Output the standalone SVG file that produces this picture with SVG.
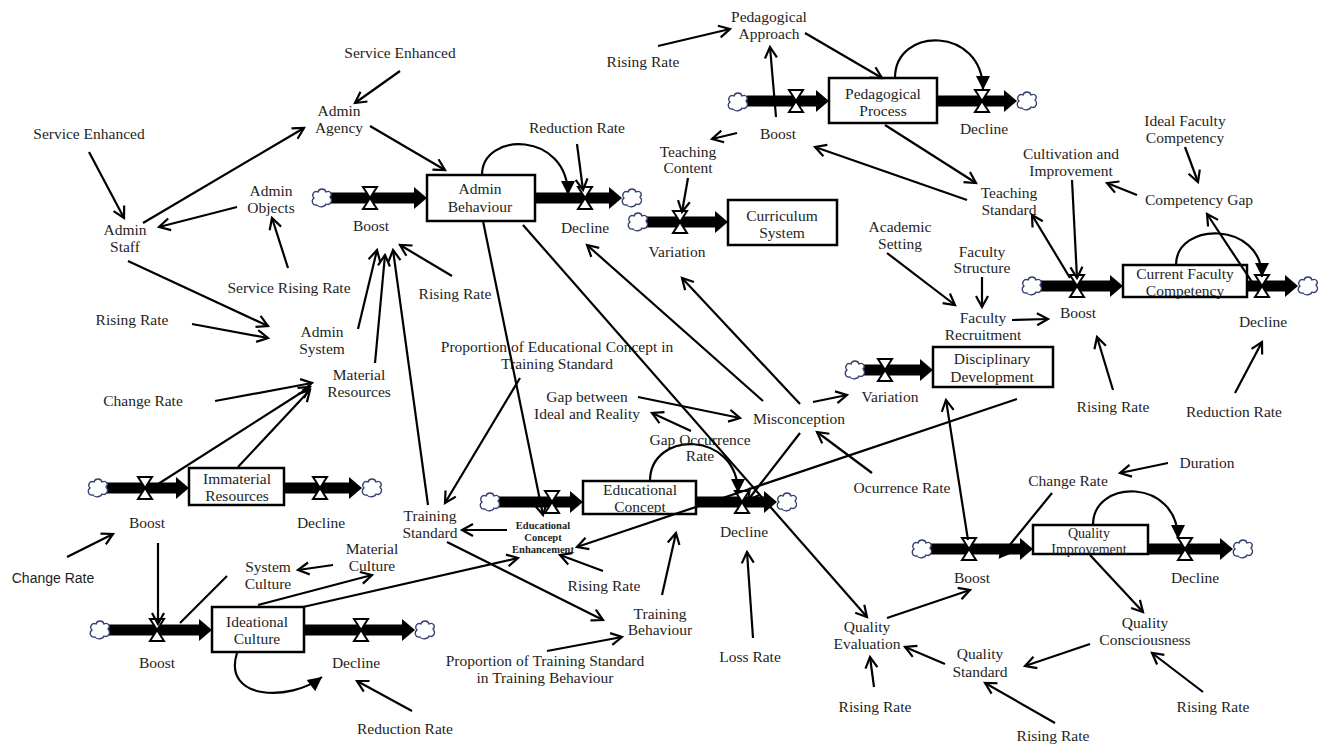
<svg xmlns="http://www.w3.org/2000/svg" xmlns:xlink="http://www.w3.org/1999/xlink" width="1322" height="745" viewBox="0 0 1322 745">
  <style>
    .t{font-family:"Liberation Serif","Times New Roman",serif;font-size:15.5px;fill:#1e1e1e;text-anchor:middle}
    .sm{font-size:14px}
    .bd{font-family:"Liberation Serif","Times New Roman",serif;font-size:10.5px;font-weight:bold;fill:#1e1e1e;text-anchor:middle}
    .sans{font-family:"Liberation Sans",Arial,sans-serif;font-size:14px;fill:#1e1e1e;text-anchor:middle}
    .box{fill:#fff;stroke:#000;stroke-width:2.5}
    .pipe{stroke:#000;stroke-width:11;marker-end:url(#pipeHead)}
    .c{stroke:#000;stroke-width:2.2;fill:none;marker-end:url(#chev)}
    .cn{stroke:#000;stroke-width:2.2;fill:none}
    .loop{stroke:#000;stroke-width:2.2;fill:none;marker-end:url(#solid)}
  </style>
  <defs>
    <marker id="chev" markerUnits="userSpaceOnUse" markerWidth="14" markerHeight="14" refX="12" refY="7" orient="auto" overflow="visible">
      <path d="M1,1 L12,7 L1,13" fill="none" stroke="#000" stroke-width="2.2"/>
    </marker>
    <marker id="solid" markerUnits="userSpaceOnUse" markerWidth="15" markerHeight="14" refX="14" refY="7" orient="auto" overflow="visible">
      <path d="M0,0 L14,7 L0,14 Z" fill="#000"/>
    </marker>
    <marker id="pipeHead" markerUnits="userSpaceOnUse" markerWidth="14" markerHeight="24" refX="0" refY="11" orient="auto" overflow="visible">
      <path d="M0,0 L13,11 L0,22 Z" fill="#000"/>
    </marker>
    <g id="valve">
      <path d="M-7,-11 L7,-11 L0,0 Z M-7,11 L7,11 L0,0 Z" fill="#fff" stroke="#000" stroke-width="2"/>
    </g>
    <g id="cloud">
      <path d="M-5,7 C-10,8 -11,2 -8,0 C-11,-3 -8,-8 -4,-6 C-3,-10 3,-10 4,-6 C8,-8 11,-4 8,-1 C11,2 9,8 4,6 C3,9 -3,10 -5,7 Z" fill="#fff" stroke="#34406e" stroke-width="1.3"/>
    </g>
  </defs>

  <rect width="1322" height="745" fill="#fff"/>

  <!-- stock: Admin Behaviour -->
  <g id="stock-admin-behaviour">
    <line class="pipe" x1="330" y1="198" x2="414" y2="198"/>
    <line class="pipe" x1="535" y1="198" x2="609" y2="198"/>
    <use href="#cloud" x="322" y="198"/>
    <use href="#cloud" x="632" y="198"/>
    <use href="#valve" x="370" y="198"/>
    <use href="#valve" x="585" y="198"/>
    <rect class="box" x="427" y="175" width="108" height="46"/>
    <text class="t" x="480" y="194"><tspan x="480">Admin</tspan><tspan x="480" dy="18">Behaviour</tspan></text>
    <path class="loop" d="M482,175 C482,131 568,131 568,195"/>
  </g>

  <!-- stock: Curriculum System -->
  <g id="stock-curriculum">
    <line class="pipe" x1="646" y1="222" x2="715" y2="222"/>
    <use href="#cloud" x="638" y="222"/>
    <use href="#valve" x="680" y="222"/>
    <rect class="box" x="728" y="200" width="109" height="45"/>
    <text class="t" x="782" y="221"><tspan x="782">Curriculum</tspan><tspan x="782" dy="17">System</tspan></text>
  </g>

  <!-- stock: Pedagogical Process -->
  <g id="stock-pedagogical">
    <line class="pipe" x1="747" y1="101" x2="816" y2="101"/>
    <line class="pipe" x1="937" y1="101" x2="1004" y2="101"/>
    <use href="#cloud" x="738" y="102"/>
    <use href="#cloud" x="1027" y="101"/>
    <use href="#valve" x="796" y="101"/>
    <use href="#valve" x="982" y="101"/>
    <rect class="box" x="829" y="78" width="108" height="45"/>
    <text class="t" x="883" y="99"><tspan x="883">Pedagogical</tspan><tspan x="883" dy="17">Process</tspan></text>
    <path class="loop" d="M895,78 C895,26 983,26 983,90"/>
  </g>

  <!-- stock: Current Faculty Competency -->
  <g id="stock-faculty">
    <line class="pipe" x1="1041" y1="286" x2="1110" y2="286"/>
    <line class="pipe" x1="1247" y1="286" x2="1285" y2="286"/>
    <use href="#cloud" x="1032" y="286"/>
    <use href="#cloud" x="1308" y="286"/>
    <use href="#valve" x="1077" y="286"/>
    <use href="#valve" x="1262" y="286"/>
    <rect class="box" x="1123" y="265" width="124" height="32"/>
    <text class="t" x="1185" y="279"><tspan x="1185">Current Faculty</tspan><tspan x="1185" dy="17">Competency</tspan></text>
    <path class="loop" d="M1176,265 C1176,221 1262,221 1262,277"/>
  </g>

  <!-- stock: Disciplinary Development -->
  <g id="stock-disciplinary">
    <line class="pipe" x1="864" y1="370" x2="920" y2="370"/>
    <use href="#cloud" x="855" y="370"/>
    <use href="#valve" x="885" y="370"/>
    <rect class="box" x="933" y="347" width="120" height="40"/>
    <text class="t" x="992" y="364"><tspan x="992">Disciplinary</tspan><tspan x="992" dy="18">Development</tspan></text>
  </g>

  <!-- stock: Educational Concept -->
  <g id="stock-educational">
    <line class="pipe" x1="499" y1="502" x2="570" y2="502"/>
    <line class="pipe" x1="696" y1="502" x2="764" y2="502"/>
    <use href="#cloud" x="490" y="502"/>
    <use href="#cloud" x="787" y="502"/>
    <use href="#valve" x="552" y="502"/>
    <use href="#valve" x="742" y="502"/>
    <rect class="box" x="583" y="481" width="113" height="33"/>
    <text class="t" x="640" y="495"><tspan x="640">Educational</tspan><tspan x="640" dy="17">Concept</tspan></text>
    <path class="loop" d="M650,481 C650,430 738,430 738,493"/>
  </g>

  <!-- stock: Immaterial Resources -->
  <g id="stock-immaterial">
    <line class="pipe" x1="107" y1="488" x2="176" y2="488"/>
    <line class="pipe" x1="284" y1="488" x2="349" y2="488"/>
    <use href="#cloud" x="98" y="488"/>
    <use href="#cloud" x="372" y="488"/>
    <use href="#valve" x="145" y="488"/>
    <use href="#valve" x="320" y="488"/>
    <rect class="box" x="189" y="468" width="95" height="37"/>
    <text class="t" x="237" y="484"><tspan x="237">Immaterial</tspan><tspan x="237" dy="17">Resources</tspan></text>
  </g>

  <!-- stock: Ideational Culture -->
  <g id="stock-ideational">
    <line class="pipe" x1="109" y1="630" x2="199" y2="630"/>
    <line class="pipe" x1="304" y1="630" x2="402" y2="630"/>
    <use href="#cloud" x="100" y="630"/>
    <use href="#cloud" x="425" y="630"/>
    <use href="#valve" x="157" y="630"/>
    <use href="#valve" x="361" y="630"/>
    <rect class="box" x="212" y="607" width="92" height="45"/>
    <text class="t" x="257" y="627"><tspan x="257">Ideational</tspan><tspan x="257" dy="17">Culture</tspan></text>
    <path class="loop" d="M237,653 C222,700 290,702 322,677"/>
  </g>

  <!-- stock: Quality Improvement -->
  <g id="stock-quality">
    <line class="pipe" x1="931" y1="549" x2="1020" y2="549"/>
    <line class="pipe" x1="1148" y1="549" x2="1220" y2="549"/>
    <use href="#cloud" x="922" y="549"/>
    <use href="#cloud" x="1243" y="549"/>
    <use href="#valve" x="969" y="549"/>
    <use href="#valve" x="1185" y="549"/>
    <rect class="box" x="1033" y="525" width="115" height="29"/>
    <text class="t sm" x="1089" y="538"><tspan x="1089">Quality</tspan><tspan x="1089" dy="16">Improvement</tspan></text>
    <path class="loop" d="M1093,525 C1093,478 1178,478 1178,539"/>
  </g>

  <!-- auxiliaries and flow labels -->
  <g id="labels-admin">
    <text class="t" x="400" y="58">Service Enhanced</text>
    <text class="t" x="339" y="116"><tspan x="339">Admin</tspan><tspan x="339" dy="17">Agency</tspan></text>
    <text class="t" x="89" y="139">Service Enhanced</text>
    <text class="t" x="125" y="235"><tspan x="125">Admin</tspan><tspan x="125" dy="17">Staff</tspan></text>
    <text class="t" x="271" y="196"><tspan x="271">Admin</tspan><tspan x="271" dy="17">Objects</tspan></text>
    <text class="t" x="371" y="231">Boost</text>
    <text class="t" x="577" y="133">Reduction Rate</text>
    <text class="t" x="585" y="233">Decline</text>
    <text class="t" x="289" y="293">Service Rising Rate</text>
    <text class="t" x="455" y="299">Rising Rate</text>
    <text class="t" x="132" y="325">Rising Rate</text>
    <text class="t" x="322" y="337"><tspan x="322">Admin</tspan><tspan x="322" dy="17">System</tspan></text>
    <text class="t" x="359" y="380"><tspan x="359">Material</tspan><tspan x="359" dy="17">Resources</tspan></text>
    <text class="t" x="143" y="406">Change Rate</text>
  </g>

  <g id="labels-culture">
    <text class="t" x="147" y="528">Boost</text>
    <text class="t" x="321" y="528">Decline</text>
    <text class="sans" x="53" y="583">Change Rate</text>
    <text class="t" x="268" y="572"><tspan x="268">System</tspan><tspan x="268" dy="17">Culture</tspan></text>
    <text class="t" x="372" y="554"><tspan x="372">Material</tspan><tspan x="372" dy="17">Culture</tspan></text>
    <text class="t" x="157" y="668">Boost</text>
    <text class="t" x="356" y="668">Decline</text>
    <text class="t" x="405" y="734">Reduction Rate</text>
  </g>

  <g id="labels-pedagogy">
    <text class="t" x="769" y="22"><tspan x="769">Pedagogical</tspan><tspan x="769" dy="17">Approach</tspan></text>
    <text class="t" x="643" y="67">Rising Rate</text>
    <text class="t" x="778" y="139">Boost</text>
    <text class="t" x="984" y="134">Decline</text>
    <text class="t" x="688" y="157"><tspan x="688">Teaching</tspan><tspan x="688" dy="16">Content</tspan></text>
    <text class="t" x="677" y="257">Variation</text>
  </g>

  <g id="labels-faculty">
    <text class="t" x="1185" y="126"><tspan x="1185">Ideal Faculty</tspan><tspan x="1185" dy="17">Competency</tspan></text>
    <text class="t" x="1071" y="159"><tspan x="1071">Cultivation and</tspan><tspan x="1071" dy="17">Improvement</tspan></text>
    <text class="t" x="1199" y="205">Competency Gap</text>
    <text class="t" x="1009" y="198"><tspan x="1009">Teaching</tspan><tspan x="1009" dy="17">Standard</tspan></text>
    <text class="t" x="900" y="232"><tspan x="900">Academic</tspan><tspan x="900" dy="17">Setting</tspan></text>
    <text class="t" x="982" y="257"><tspan x="982">Faculty</tspan><tspan x="982" dy="16">Structure</tspan></text>
    <text class="t" x="983" y="323"><tspan x="983">Faculty</tspan><tspan x="983" dy="17">Recruitment</tspan></text>
    <text class="t" x="1078" y="318">Boost</text>
    <text class="t" x="1263" y="327">Decline</text>
    <text class="t" x="890" y="402">Variation</text>
    <text class="t" x="1113" y="412">Rising Rate</text>
    <text class="t" x="1234" y="417">Reduction Rate</text>
  </g>

  <g id="labels-concept">
    <text class="t" x="557" y="352"><tspan x="557">Proportion of Educational Concept in</tspan><tspan x="557" dy="17">Training Standard</tspan></text>
    <text class="t" x="587" y="402"><tspan x="587">Gap between</tspan><tspan x="587" dy="17">Ideal and Reality</tspan></text>
    <text class="t" x="799" y="424">Misconception</text>
    <text class="t" x="700" y="445"><tspan x="700">Gap Occurrence</tspan><tspan x="700" dy="16">Rate</tspan></text>
    <text class="t" x="902" y="493">Ocurrence Rate</text>
    <text class="t" x="744" y="537">Decline</text>
    <text class="t" x="430" y="521"><tspan x="430">Training</tspan><tspan x="430" dy="17">Standard</tspan></text>
    <text class="bd" x="543" y="529"><tspan x="543">Educational</tspan><tspan x="543" dy="12">Concept</tspan><tspan x="543" dy="12">Enhancement</tspan></text>
    <text class="t" x="604" y="591">Rising Rate</text>
    <text class="t" x="660" y="619"><tspan x="660">Training</tspan><tspan x="660" dy="16">Behaviour</tspan></text>
    <text class="t" x="545" y="666"><tspan x="545">Proportion of Training Standard</tspan><tspan x="545" dy="17">in Training Behaviour</tspan></text>
    <text class="t" x="750" y="662">Loss Rate</text>
  </g>

  <g id="labels-quality">
    <text class="t" x="1207" y="468">Duration</text>
    <text class="t" x="1068" y="486">Change Rate</text>
    <text class="t" x="972" y="583">Boost</text>
    <text class="t" x="1195" y="583">Decline</text>
    <text class="t" x="867" y="632"><tspan x="867">Quality</tspan><tspan x="867" dy="17">Evaluation</tspan></text>
    <text class="t" x="1145" y="628"><tspan x="1145">Quality</tspan><tspan x="1145" dy="17">Consciousness</tspan></text>
    <text class="t" x="980" y="659"><tspan x="980">Quality</tspan><tspan x="980" dy="18">Standard</tspan></text>
    <text class="t" x="875" y="712">Rising Rate</text>
    <text class="t" x="1213" y="712">Rising Rate</text>
    <text class="t" x="1053" y="741">Rising Rate</text>
  </g>

  <!-- information links -->
  <g id="connectors">
    <line class="c" x1="400" y1="71" x2="355" y2="103"/>
    <line class="c" x1="370" y1="126" x2="445" y2="170"/>
    <line class="c" x1="89" y1="152" x2="124" y2="218"/>
    <line class="c" x1="143" y1="223" x2="304" y2="128"/>
    <line class="c" x1="237" y1="207" x2="159" y2="227"/>
    <line class="c" x1="288" y1="268" x2="272" y2="218"/>
    <line class="c" x1="128" y1="261" x2="268" y2="326"/>
    <line class="c" x1="192" y1="324" x2="268" y2="338"/>
    <line class="c" x1="358" y1="329" x2="377" y2="250"/>
    <line class="c" x1="375" y1="363" x2="385" y2="255"/>
    <line class="c" x1="428" y1="505" x2="393" y2="250"/>
    <line class="c" x1="452" y1="276" x2="400" y2="245"/>
    <line class="c" x1="215" y1="401" x2="312" y2="383"/>
    <line class="c" x1="155" y1="486" x2="310" y2="387"/>
    <line class="c" x1="238" y1="467" x2="310" y2="390"/>
    <line class="c" x1="577" y1="144" x2="583" y2="190"/>
    <line class="c" x1="483" y1="221" x2="543" y2="515"/>
    <line class="c" x1="523" y1="225" x2="867" y2="617"/>
    <line class="c" x1="763" y1="401" x2="587" y2="245"/>
    <line class="c" x1="800" y1="404" x2="682" y2="278"/>
    <line class="c" x1="813" y1="402" x2="847" y2="395"/>
    <line class="c" x1="638" y1="397" x2="740" y2="418"/>
    <line class="c" x1="691" y1="431" x2="652" y2="413"/>
    <line class="c" x1="800" y1="433" x2="748" y2="500"/>
    <line class="c" x1="872" y1="473" x2="817" y2="432"/>
    <line class="c" x1="520" y1="378" x2="445" y2="503"/>
    <line class="c" x1="507" y1="530" x2="462" y2="530"/>
    <line class="c" x1="1017" y1="399" x2="577" y2="547"/>
    <line class="c" x1="603" y1="571" x2="560" y2="555"/>
    <line class="c" x1="303" y1="607" x2="518" y2="558"/>
    <line class="c" x1="447" y1="542" x2="603" y2="620"/>
    <line class="c" x1="547" y1="651" x2="622" y2="637"/>
    <line class="c" x1="662" y1="595" x2="676" y2="533"/>
    <line class="c" x1="753" y1="638" x2="747" y2="552"/>
    <line class="c" x1="874" y1="687" x2="870" y2="657"/>
    <line class="c" x1="887" y1="618" x2="970" y2="590"/>
    <line class="c" x1="945" y1="664" x2="905" y2="647"/>
    <line class="c" x1="1090" y1="644" x2="1025" y2="666"/>
    <line class="c" x1="1090" y1="555" x2="1143" y2="612"/>
    <line class="c" x1="1203" y1="692" x2="1152" y2="653"/>
    <line class="c" x1="1055" y1="723" x2="985" y2="683"/>
    <line class="c" x1="1168" y1="463" x2="1120" y2="473"/>
    <line class="c" x1="1052" y1="493" x2="1000" y2="557"/>
    <line class="c" x1="968" y1="540" x2="946" y2="400"/>
    <line class="c" x1="658" y1="46" x2="730" y2="29"/>
    <line class="c" x1="805" y1="33" x2="882" y2="78"/>
    <line class="c" x1="776" y1="117" x2="770" y2="47"/>
    <line class="c" x1="737" y1="133" x2="712" y2="139"/>
    <line class="c" x1="688" y1="178" x2="682" y2="212"/>
    <line class="c" x1="967" y1="200" x2="815" y2="147"/>
    <line class="c" x1="885" y1="125" x2="976" y2="183"/>
    <line class="c" x1="1185" y1="147" x2="1198" y2="182"/>
    <line class="c" x1="1137" y1="195" x2="1107" y2="183"/>
    <line class="c" x1="1072" y1="180" x2="1077" y2="278"/>
    <line class="c" x1="1070" y1="278" x2="1032" y2="215"/>
    <line class="c" x1="1252" y1="282" x2="1207" y2="214"/>
    <line class="c" x1="887" y1="253" x2="955" y2="305"/>
    <line class="c" x1="982" y1="277" x2="982" y2="307"/>
    <line class="c" x1="1012" y1="320" x2="1048" y2="319"/>
    <line class="c" x1="1113" y1="390" x2="1097" y2="337"/>
    <line class="c" x1="1235" y1="393" x2="1262" y2="342"/>
    <line class="c" x1="412" y1="711" x2="357" y2="681"/>
    <line class="c" x1="333" y1="565" x2="298" y2="570"/>
    <line class="c" x1="258" y1="605" x2="372" y2="575"/>
    <line class="cn" x1="227" y1="576" x2="180" y2="623"/>
    <line class="c" x1="158" y1="543" x2="158" y2="624"/>
    <line class="c" x1="67" y1="557" x2="113" y2="534"/>
  </g>
</svg>
